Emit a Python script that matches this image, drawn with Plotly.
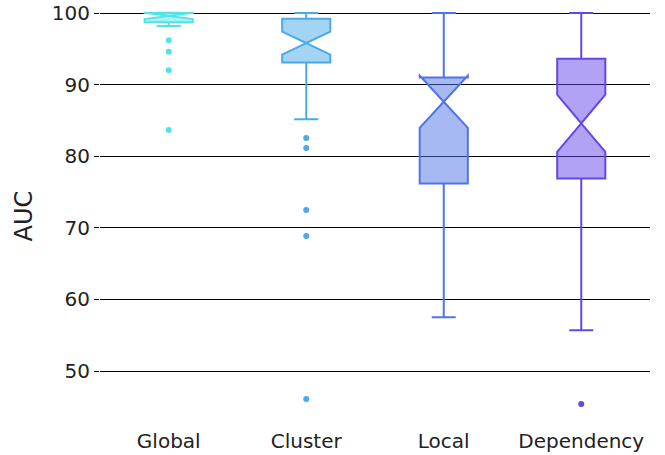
import plotly.graph_objects as go

categories = ["Global", "Cluster", "Local", "Dependency"]
colors = ["#50e4e6", "#4aaae8", "#4f74e8", "#6546e8"]

q1 = [98.7, 93.1, 76.2, 76.9]
median = [99.6, 95.8, 87.6, 84.6]
q3 = [100.0, 99.2, 91.0, 93.6]
lowerfence = [98.2, 85.15, 57.5, 55.7]
upperfence = [100.0, 100.0, 100.0, 100.0]
notchspan = [0.45, 1.6, 3.65, 4.0]

outliers = {
    "Global": [96.2, 94.6, 92.0, 83.65],
    "Cluster": [82.55, 81.15, 72.5, 68.85, 46.1],
    "Local": [],
    "Dependency": [45.4],
}

yticks = [50, 60, 70, 80, 90, 100]

fig = go.Figure()
for i, cat in enumerate(categories):
    fig.add_trace(go.Box(
        x=[cat], q1=[q1[i]], median=[median[i]], q3=[q3[i]],
        lowerfence=[lowerfence[i]], upperfence=[upperfence[i]],
        notchspan=[notchspan[i]], notched=True, notchwidth=0.5,
        name=cat, marker_color=colors[i], line=dict(color=colors[i], width=2),
        boxpoints=False, whiskerwidth=0.5,
    ))
    if outliers[cat]:
        fig.add_trace(go.Scatter(
            x=[cat] * len(outliers[cat]), y=outliers[cat], mode="markers",
            marker=dict(color=colors[i], size=6), name=cat, showlegend=False,
        ))

fig.update_layout(
    width=665, height=455,
    margin=dict(l=100, r=15, t=10, b=33, autoexpand=False),
    paper_bgcolor="white", plot_bgcolor="white",
    showlegend=False, boxgap=0.5,
    font=dict(family="DejaVu Sans", size=20, color="#222"),
    xaxis=dict(categoryorder="array", categoryarray=categories, showgrid=False,
               zeroline=False, ticks="outside", ticklen=1,
               tickcolor="rgba(0,0,0,0)", automargin=False),
    yaxis=dict(title=dict(text="AUC", font=dict(size=24), standoff=12),
               range=[42.88, 100.42],
               tickvals=yticks, showgrid=True, gridcolor="black", gridwidth=1,
               zeroline=False, ticks="outside", ticklen=5, tickcolor="black",
               automargin=False),
)

fig.write_html("out.html")
